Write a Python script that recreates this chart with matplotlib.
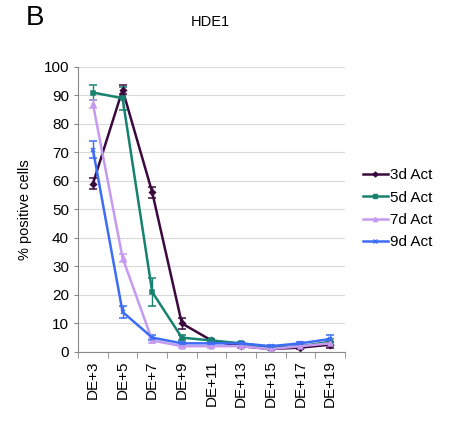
import matplotlib
matplotlib.use("Agg")
import matplotlib.pyplot as plt
from matplotlib.lines import Line2D
import numpy as np

plt.rcParams['font.family'] = ['Liberation Sans', 'DejaVu Sans']

categories = ["DE+3", "DE+5", "DE+7", "DE+9", "DE+11", "DE+13", "DE+15", "DE+17", "DE+19"]
series_names = ["3d Act", "5d Act", "7d Act", "9d Act"]
v3 = [59, 92, 56, 10, 4, 2, 1, 1.5, 2.5]
e3 = [2, 1.5, 2, 2, 0.5, 0.5, 0.5, 0.5, 1]
v5 = [91, 89, 21, 5, 4, 3, 1.5, 2, 3.5]
e5 = [2.5, 4, 5, 1, 0.5, 0.5, 0.5, 0.5, 1]
v7 = [87, 33, 4, 2, 2, 2, 1, 2, 3]
e7 = [1.5, 1.5, 1, 0.5, 0.5, 0.5, 0.5, 0.5, 1]
v9 = [71, 14, 5, 3, 3, 3, 2, 3, 4.5]
e9 = [3, 2, 1, 0.5, 0.5, 0.5, 0.5, 0.5, 1.5]

values = [v3, v5, v7, v9]
errors = [e3, e5, e7, e9]
colors = ["#3a0a3e", "#16826f", "#c69af0", "#3d6cf5"]
markers = ["D", "s", "^", "x"]
msizes = [3, 3.5, 3.5, 3.5]

fig = plt.figure(figsize=(4.49, 4.26), dpi=100)
ax = fig.add_axes([0.174, 0.174, 0.594, 0.669])
x = np.arange(len(categories))
handles = []
for vals, errs, c, m, ms, name in zip(values, errors, colors, markers, msizes, series_names):
    ax.errorbar(x, vals, yerr=errs, color=c, marker=m, markersize=ms, lw=1.8,
                capsize=3, elinewidth=1, capthick=1, mew=1.1)
    handles.append(Line2D([], [], color=c, marker=m, markersize=ms - 0.5, lw=1.8, mew=1.0, label=name))

ax.set_xlim(-0.5, len(categories) - 0.5)
ax.set_ylim(0, 100)
ax.set_yticks(np.arange(0, 101, 10))
ax.set_xticks(x)
ax.set_xticklabels(categories, rotation=90, fontsize=11)
ax.tick_params(axis='x', length=0, pad=6)
ax.set_xticks(np.arange(-0.5, len(categories), 1), minor=True)
ax.tick_params(axis='x', which='minor', length=4, color='#888888', direction='out')
ax.tick_params(axis='y', labelsize=11, length=3, color='#888888')
ax.grid(axis='y', color='#d9d9d9', lw=0.8)
ax.set_axisbelow(True)
for s in ['top', 'right']:
    ax.spines[s].set_visible(False)
for s in ['left', 'bottom']:
    ax.spines[s].set_color('#888888')
ax.set_ylabel("% positive cells", fontsize=10.5, labelpad=8)

fig.text(0.058, 0.958, "B", fontsize=20, va='center', ha='left')
fig.text(0.468, 0.948, "HDE1", fontsize=10.5, va='center', ha='center')

leg = fig.legend(handles=handles, loc='center left', bbox_to_anchor=(0.795, 0.51),
                 frameon=False, fontsize=11, handlelength=1.6, handletextpad=0.15,
                 labelspacing=0.55, borderaxespad=0)
fig.savefig("out.png", dpi=100)
